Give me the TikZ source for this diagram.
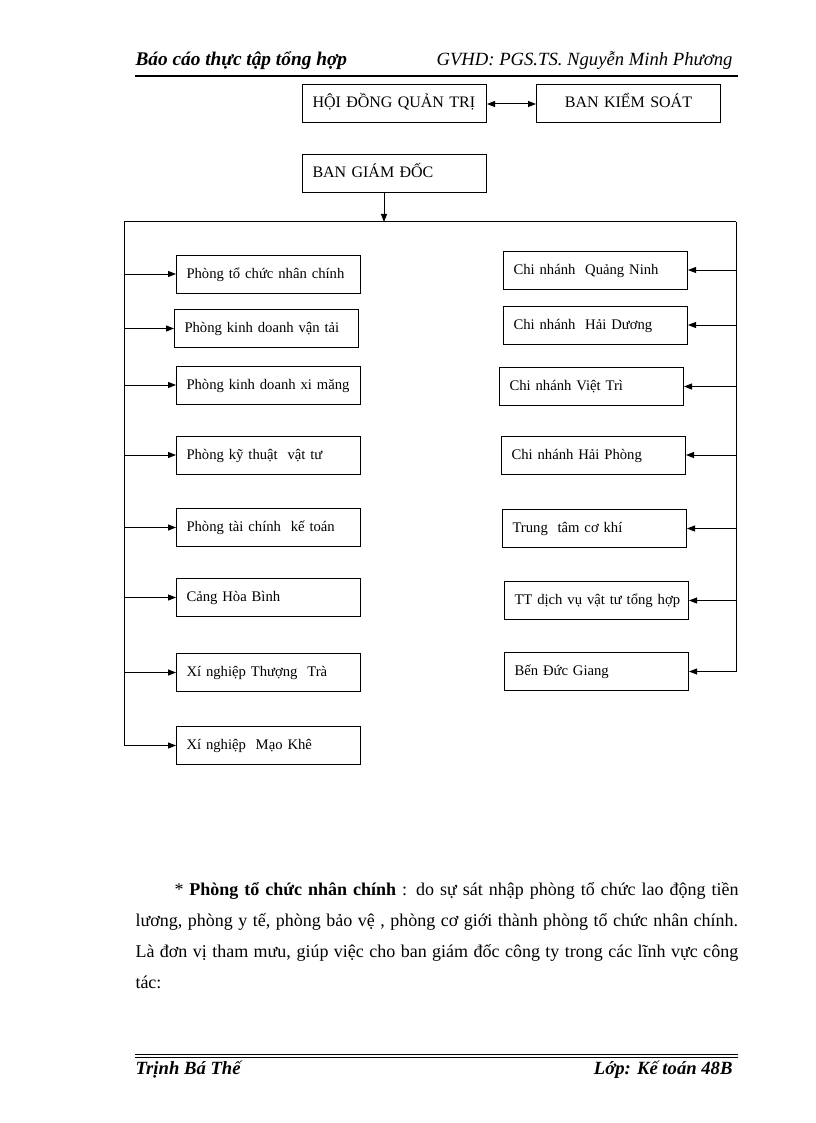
\documentclass[tikz,border=0pt]{standalone}
\usepackage{fontspec}
\setmainfont{Liberation Serif}
\usetikzlibrary{arrows.meta,positioning}

\tikzset{
	box/.style={draw, anchor=west, minimum width=138pt, minimum height=28.5pt, inner xsep=7.5pt, text width=123pt, text height=8.5pt, text depth=2.5pt, align=left, font=\fontsize{11}{13}\selectfont},
	topbox/.style={box, font=\fontsize{12}{14}\selectfont},
	arr/.style={-{Triangle[length=6pt,width=4.5pt]}},
	headtext/.style={anchor=base west, inner sep=0pt, font=\fontsize{14}{16}\selectfont\itshape},
	bodyline/.style={anchor=base west, inner sep=0pt, font=\fontsize{13.5}{16}\selectfont},
}

\begin{document}
\begin{tikzpicture}[x=0.75pt,y=-0.75pt,line width=0.75pt]
	\useasboundingbox (0,0) rectangle (816,1123);
	% header and footer
	\node[headtext,font=\fontsize{14.5}{16}\selectfont\bfseries\itshape] (head1) at (135,66) {Báo cáo thực tập tổng hợp};
	\node[headtext,anchor=base east] (head2) at (733,66) {GVHD: PGS.TS. Nguyễn Minh Phương};
	\draw [line width=1.5pt] (135,76) -- (738,76);
	\draw (135,1054) -- (738,1054);
	\draw (135,1057) -- (738,1057);
	\node[headtext,font=\fontsize{14}{16}\selectfont\bfseries\itshape] (foot1) at (135,1074) {Trịnh Bá Thế};
	\node[headtext,anchor=base east,font=\fontsize{14}{16}\selectfont\bfseries\itshape] (foot2) at (733,1074) {Lớp: Kế toán 48B};
	% top of the chart
	\node[topbox] (hdqt) at (302,104) {HỘI ĐỒNG QUẢN TRỊ};
	\node[topbox,align=center] (bks) at (536,104) {BAN KIỂM SOÁT};
	\node[topbox] (bgd) at (302,173.5) {BAN GIÁM ĐỐC};
	\draw [{Triangle[length=6pt,width=4.5pt]}-{Triangle[length=6pt,width=4.5pt]}] (hdqt) -- (bks);
	\coordinate (lbus) at (124,222);
	\coordinate (rbus) at (736,222);
	\coordinate (drop) at (384,222);
	\draw [arr] (drop |- bgd.south) -- (drop);
	\draw (lbus) -- (rbus);
	% left column
	\foreach \n/\x/\y/\t in {p1/176/274/{Phòng tổ chức nhân chính},
		p2/174/328.5/{Phòng kinh doanh vận tải},
		p3/176/385/{Phòng kinh doanh xi măng},
		p4/176/455/{Phòng kỹ thuật\ \ vật tư},
		p5/176/527.5/{Phòng tài chính\ \ kế toán},
		p6/176/597.5/{Cảng Hòa Bình},
		p7/176/672.5/{Xí nghiệp Thượng\ \ Trà},
		p8/176/745.5/{Xí nghiệp\ \ Mạo Khê}}
		\node[box] (\n) at (\x,\y) {\t};
	\draw (lbus) -- (lbus |- p8.west);
	\foreach \n in {p1,p2,p3,p4,p5,p6,p7,p8}
		\draw [arr] (lbus |- \n.west) -- (\n.west);
	% right column
	\foreach \n/\x/\y/\t in {c1/503/270/{Chi nhánh\ \ Quảng Ninh},
		c2/503/325/{Chi nhánh\ \ Hải Dương},
		c3/499/386.5/{Chi nhánh Việt Trì},
		c4/501/455/{Chi nhánh Hải Phòng},
		c5/502/528.5/{Trung\ \ tâm cơ khí},
		c6/504/600.5/{\mbox{TT dịch vụ vật tư tổng hợp}},
		c7/504/671.5/{Bến Đức Giang}}
		\node[box] (\n) at (\x,\y) {\t};
	\draw (rbus) -- (rbus |- c7.east);
	\foreach \n in {c1,c2,c3,c4,c5,c6,c7}
		\draw [arr] (rbus |- \n.east) -- (\n.east);
	% text below the chart
	\node[bodyline] (l1) at (174,895) {\makebox[423pt][s]{* \textbf{Phòng tổ chức nhân chính} : do sự sát nhập phòng tổ chức lao động tiền}};
	\node[bodyline] (l2) at (135,926) {\makebox[452pt][s]{lương, phòng y tế, phòng bảo vệ , phòng cơ giới thành phòng tổ chức nhân chính.}};
	\node[bodyline] (l3) at (135,957) {\makebox[452pt][s]{Là đơn vị tham mưu, giúp việc cho ban giám đốc công ty trong các lĩnh vực công}};
	\node[bodyline] (l4) at (135,988) {tác:};
\end{tikzpicture}
\end{document}
